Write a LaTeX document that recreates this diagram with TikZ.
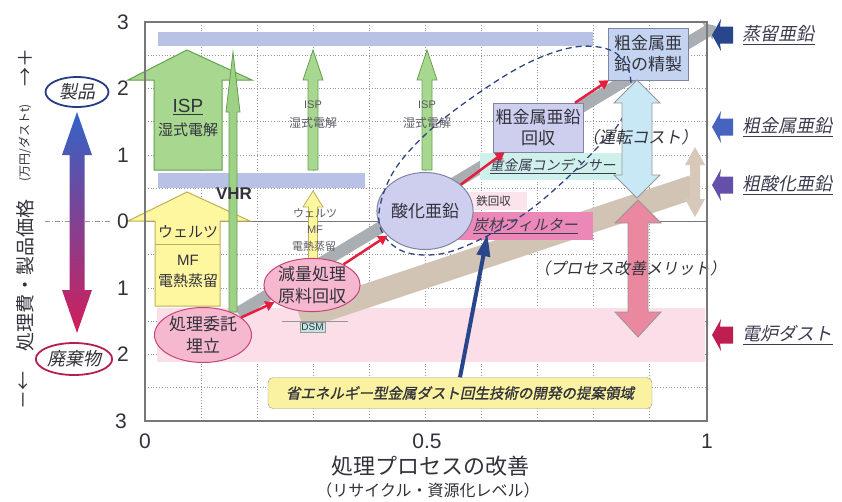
\documentclass[tikz,border=0pt]{standalone}
\usepackage{fontspec}
\setmainfont{Liberation Sans}
\newfontfamily\jp{Noto Sans CJK JP}
\newfontfamily\jpit[FakeSlant=0.2]{Noto Sans CJK JP}
\newfontfamily\jpbi[FakeSlant=0.2,FakeBold=1.2]{Noto Sans CJK JP}
\usetikzlibrary{arrows.meta,shapes.geometric}
\newcommand\fs[2]{\fontsize{#1}{#2}\selectfont}
\definecolor{gridc}{RGB}{150,150,150}
\definecolor{framec}{RGB}{120,120,120}
\definecolor{bandblue}{RGB}{184,194,230}
\definecolor{bandpink}{RGB}{252,222,232}
\definecolor{grayband}{RGB}{168,174,178}
\definecolor{tanband}{RGB}{210,196,180}
\definecolor{gfill}{RGB}{168,216,144}
\definecolor{gline}{RGB}{100,160,80}
\definecolor{yfill}{RGB}{255,246,160}
\definecolor{yline}{RGB}{190,176,90}
\definecolor{pinkfill}{RGB}{246,184,206}
\definecolor{pinkline}{RGB}{196,70,120}
\definecolor{lavfill}{RGB}{206,206,238}
\definecolor{boxline}{RGB}{128,132,160}
\definecolor{seifill}{RGB}{196,212,240}
\definecolor{condfill}{RGB}{208,240,236}
\definecolor{tetsufill}{RGB}{252,228,236}
\definecolor{tanfill}{RGB}{236,136,184}
\definecolor{redarr}{RGB}{228,30,60}
\definecolor{navyc}{RGB}{40,70,140}
\definecolor{dashc}{RGB}{50,70,130}
\definecolor{ltblue}{RGB}{200,232,246}
\definecolor{pinkarr}{RGB}{234,136,160}
\definecolor{txt}{RGB}{50,50,60}
\definecolor{lbl}{RGB}{60,60,80}
\definecolor{mkA}{RGB}{40,70,140}
\definecolor{mkB}{RGB}{70,100,190}
\definecolor{mkC}{RGB}{100,80,170}
\definecolor{mkD}{RGB}{190,30,80}
\definecolor{gradtop}{RGB}{50,100,200}
\definecolor{gradmid}{RGB}{130,70,170}
\definecolor{gradbot}{RGB}{210,30,90}
\definecolor{seihin}{RGB}{40,60,130}
\definecolor{haiki}{RGB}{180,30,80}
\definecolor{labelyel}{RGB}{250,242,160}
\definecolor{dsmfill}{RGB}{196,228,228}
\definecolor{tanarr}{RGB}{216,200,186}
\begin{document}
\begin{tikzpicture}[x=1pt,y=-1pt,
  gridline/.style={gridc,dotted,line width=0.8pt},
  numlab/.style={font=\fs{21}{24},text=txt},
  pinkell/.style={ellipse,draw=pinkline,fill=pinkfill,line width=1pt,inner sep=0pt,font=\jp\fs{17}{22},text=txt,align=center},
  redline/.style={redarr,line width=2.5pt,-{Triangle[length=9pt,width=10pt]}},
  plainbox/.style={inner sep=0pt,font=\jp\fs{17}{21},text=txt,align=center},
  rlabel/.style={anchor=west,font=\jpit\fs{18}{20},text=lbl}]
\useasboundingbox (0,0) rectangle (842,501);
\fill[white] (0,0) rectangle (842,501);
% grid
\foreach \x in {201,257,313,369,425,481,537,593,649} \draw[gridline] (\x,22) -- (\x,421);
\foreach \y in {55.25,88.5,121.75,155,188.25,254.75,288,321.25,354.5,387.75} \draw[gridline] (145,\y) -- (707,\y);
% bands
\fill[bandblue] (158,32) rectangle (593,46);
\fill[bandblue] (158,173) rectangle (365,188);
\fill[bandpink] (157,308) rectangle (705,362);
\draw[framec,line width=1pt] (145,221.5) -- (707,221.5);
% diagonal bands
\draw[tanband,line width=24pt] (300,318) -- (693,187);
\fill[tanarr] (695,147) -- (705,165) -- (700,165) -- (700,199) -- (705,199) -- (695,217) -- (685,199) -- (690,199) -- (690,165) -- (685,165) -- cycle;
\draw[grayband,line width=12pt,-{Triangle[length=10pt,width=19pt]}] (238,313) -- (716,26);
% big arrows
\draw[gline,fill=gfill,line width=1pt] (154,170) -- (154,80) -- (128,80) -- (187,50) -- (252,80) -- (222,80) -- (222,170) -- cycle;
\draw[yline,fill=yfill,line width=1pt] (155,306) -- (155,221) -- (128,221) -- (187,192) -- (250,221) -- (220,221) -- (220,306) -- cycle;
\draw[yline,line width=0.8pt] (155,244) -- (220,244);
\node[font=\fs{19}{22},text=txt] (isp) at (188,107) {\underline{ISP}};
\node[font=\jp\fs{15}{18},text=txt] (isptx) at (188,130) {湿式電解};
\node[font=\jp\fs{15}{18},text=txt] (wel) at (188,232) {ウェルツ};
\node[font=\fs{15}{18},text=txt] (mf) at (188,260) {MF};
\node[font=\jp\fs{15}{18},text=txt] (den) at (188,281) {電熱蒸留};
% VHR thin arrow
\draw[gline,fill=gfill!85!gline,line width=0.8pt] (229,312) -- (229,112) -- (226,112) -- (233,52) -- (240,112) -- (237,112) -- (237,312) -- cycle;
\node[font=\bfseries\fs{17}{20},text=txt] (vhr) at (234,194) {VHR};
% small arrows
\foreach \xx in {313,427}{
  \draw[gline,fill=gfill,line width=0.8pt] (\xx-5,170) -- (\xx-5,80) -- (\xx-10,80) -- (\xx,50) -- (\xx+10,80) -- (\xx+5,80) -- (\xx+5,170) -- cycle;
  \node[font=\fs{11}{13},text=txt!80] (ispa\xx) at (\xx,105) {ISP};
  \node[font=\jp\fs{12}{14},text=txt!80] (ispb\xx) at (\xx,123) {湿式電解};
}
\draw[yline,fill=yfill,line width=0.8pt] (308.5,260) -- (308.5,207) -- (303,207) -- (313,191) -- (323,207) -- (317.5,207) -- (317.5,260) -- cycle;
\node[font=\jp\fs{11}{13},text=txt!80] (w2) at (315,213) {ウェルツ};
\node[font=\fs{11}{13},text=txt!80] (w3) at (315,230) {MF};
\node[font=\jp\fs{11}{13},text=txt!80] (w4) at (314,246) {電熱蒸留};
% DSM
\draw[gridc,line width=1pt] (282,321) -- (348,321);
\node[draw=gridc,fill=dsmfill,inner sep=1.5pt,font=\fs{10}{12},text=txt] (dsm) at (312.5,327.5) {DSM};
% boxes
\node[fill=condfill,minimum width=145pt,minimum height=27pt,inner sep=0pt,font=\jpit\fs{14}{16},text=lbl] (cond) at (552.5,166.5) {\underline{重金属コンデンサー}};
\node[fill=tetsufill,minimum width=67pt,minimum height=18pt,inner sep=0pt,font=\jp\fs{11.5}{13},text=txt] (tetsu) at (493.5,201) {鉄回収};
\node[fill=tanfill,minimum width=135pt,minimum height=28pt,inner sep=0pt,font=\jpit\fs{15}{17},text=lbl] (tanf) at (525.5,226) {\underline{炭材フィルター}};
\node[plainbox,draw=boxline,fill=lavfill,minimum width=90pt,minimum height=49pt] (kai) at (538,127.5) {粗金属亜鉛\\回収};
\node[plainbox,draw=boxline,fill=seifill,minimum width=80pt,minimum height=52pt] (sei) at (648,54) {粗金属亜\\鉛の精製};
% ellipses
\node[pinkell,minimum width=97pt,minimum height=55pt] (e1) at (203,335) {処理委託\\埋立};
\node[pinkell,minimum width=95pt,minimum height=52pt] (e2) at (312,285) {減量処理\\原料回収};
\node[ellipse,draw=boxline,fill=lavfill,line width=1pt,minimum width=80pt,minimum height=77pt,inner sep=0pt,font=\jp\fs{17}{20},text=txt] (oz) at (425,211) {酸化亜鉛};
% dashed region
\draw[dashc,line width=1.3pt,dash pattern=on 6pt off 4pt] plot[smooth cycle,tension=0.6] coordinates {(379,222) (391,176) (427,133) (480,92) (530,62) (575,47) (610,50) (628,68) (630,97) (618,125) (595,150) (565,180) (527,212) (483,238) (440,254) (400,250)};
% double arrows
\draw[gridc,fill=ltblue,line width=0.8pt] (637,80) -- (660,103) -- (652,103) -- (652,175) -- (660,175) -- (637,198) -- (614,175) -- (622,175) -- (622,103) -- (614,103) -- cycle;
\draw[gridc,fill=pinkarr,line width=0.8pt] (638,200) -- (661,223) -- (648,223) -- (648,312) -- (661,312) -- (638,337) -- (615,312) -- (628,312) -- (628,223) -- (615,223) -- cycle;
\node[font=\jpit\fs{16.5}{19},text=txt] (unten) at (640,137) {（運転コスト）};
\node[font=\jpit\fs{16}{19},text=txt] (merit) at (630,268) {（プロセス改善メリット）};
% red arrows
\draw[redline] (e1) -- (e2);
\draw[redline] (e2) -- (oz);
\draw[redline] (oz) -- (kai);
\draw[redline] (kai) -- (sei);
% proposal label
\node[draw=gridc,fill=labelyel,rounded corners=5pt,minimum width=384pt,minimum height=31pt,inner sep=0pt,font=\jpbi\fs{14.5}{16},text=txt] (lab) at (460,393) {省エネルギー型金属ダスト回生技術の開発の提案領域};
\draw[navyc,line width=4pt,-{Triangle[length=22pt,width=13pt]}] (lab.north) -- ([xshift=-38pt,yshift=6pt]tanf.south);
% frame
\draw[framec,line width=1.3pt] (145,22) rectangle (707,421);
% left axis
\draw[gridc,line width=1pt,dash pattern=on 5pt off 2pt on 1pt off 2pt] (45,221.5) -- (110,221.5);
\shade[top color=gradtop,middle color=gradmid,bottom color=gradbot] (77,112) -- (92,155) -- (84.5,155) -- (84.5,290) -- (92,290) -- (77,333) -- (62,290) -- (69.5,290) -- (69.5,155) -- (62,155) -- cycle;
\node[ellipse,draw=seihin,line width=1.8pt,fill=white,minimum width=63pt,minimum height=30pt,inner sep=0pt,font=\jpit\fs{18}{20},text=txt] (seihinN) at (77,92) {製品};
\node[ellipse,draw=haiki,line width=1.8pt,fill=white,minimum width=72pt,minimum height=32pt,inner sep=0pt,font=\jpit\fs{18}{20},text=txt] (haikiN) at (74,359) {廃棄物};
\node[numlab] (y3a) at (123,22) {3};
\node[numlab] (y2a) at (123,88.5) {2};
\node[numlab] (y1a) at (123,155) {1};
\node[numlab] (y0) at (123,221.5) {0};
\node[numlab] (y1b) at (123,288) {1};
\node[numlab] (y2b) at (123,354.5) {2};
\node[numlab] (y3b) at (121,421) {3};
\node[rotate=90,font=\jp\fs{19}{22},text=txt] (ax1) at (25,390) {－←};
\node[rotate=90,font=\jp\fs{19}{22},text=txt] (ax2) at (25,275) {処理費・製品価格};
\node[rotate=90,font=\jp\fs{12}{14},text=txt] (ax3) at (25,143) {(万円/ダストt)};
\node[rotate=90,font=\jp\fs{19}{22},text=txt] (ax4) at (25,67) {→＋};
% x axis
\node[numlab] (x0) at (145,441) {0};
\node[numlab] (x5) at (427,441) {0.5};
\node[numlab] (x1) at (707,441) {1};
\node[font=\jp\fs{22}{25},text=txt] (xt) at (430,466) {処理プロセスの改善};
\node[font=\jp\fs{16}{19},text=txt] (xs) at (428,490.5) {（リサイクル・資源化レベル）};
% right markers
\foreach \yy/\cc/\lab in {35/mkA/蒸留亜鉛,127/mkB/粗金属亜鉛,185/mkC/粗酸化亜鉛,335/mkD/電炉ダスト}{
  \fill[\cc] (712,\yy) -- (721,\yy-16) -- (720,\yy-8.5) -- (733,\yy-8.5) -- (733,\yy+8.5) -- (720,\yy+8.5) -- (721,\yy+16) -- cycle;
  \node[rlabel] (rl\yy) at (739,\yy) {\underline{\lab}};
}
\end{tikzpicture}
\end{document}
